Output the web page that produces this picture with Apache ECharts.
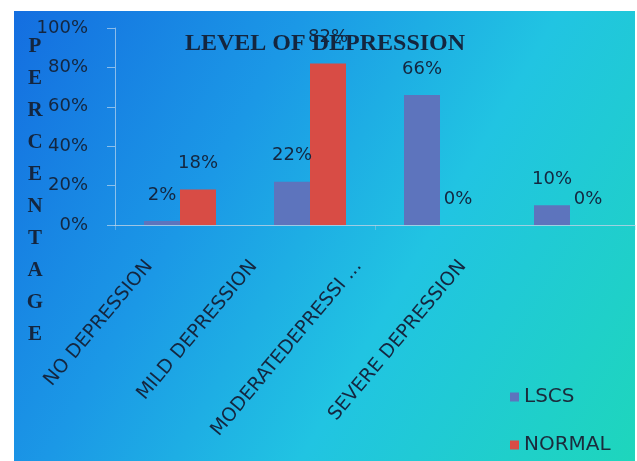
<!DOCTYPE html>
<html>
<head>
<meta charset="utf-8">
<script src="https://cdn.jsdelivr.net/npm/echarts@6/dist/echarts.min.js"></script>
<style>
  html, body { margin: 0; padding: 0; background: #fff; }
  #bg { position: absolute; left: 14px; top: 11px; width: 621px; height: 450px;
        background: linear-gradient(120deg, #146ee0 0%, #1b98e6 33%, #21c4e2 62%, #1ed6bc 100%); }
  #chart { position: absolute; left: 0; top: 0; width: 637px; height: 461px; }
</style>
</head>
<body>
<div id="bg"></div>
<div id="chart"></div>
<script>
var categories = ['NO DEPRESSION', 'MILD DEPRESSION', 'MODERATEDEPRESSI ...', 'SEVERE DEPRESSION'];
var lscs = [2, 22, 66, 10];
var normal = [18, 82, 0, 0];
var yMax = 100;
var yStep = 20;

var navy = '#14263f';
var chart = echarts.init(document.getElementById('chart'));

var barLabel = {
  show: true,
  position: 'top',
  distance: 17,
  formatter: '{c}%',
  color: navy,
  fontFamily: 'DejaVu Sans',
  fontSize: 18
};

chart.setOption({
  backgroundColor: 'transparent',
  animation: false,
  title: {
    text: 'LEVEL OF DEPRESSION',
    left: 185,
    top: 32,
    padding: 0,
    textStyle: { fontFamily: 'Liberation Serif', fontWeight: 'bold', fontSize: 24, color: navy }
  },
  legend: {
    orient: 'vertical',
    left: 505,
    top: 381,
    itemGap: 26,
    itemWidth: 9,
    itemHeight: 9,
    icon: 'rect',
    textStyle: { fontFamily: 'DejaVu Sans', fontSize: 20, color: '#1b2b3c', lineHeight: 22 }
  },
  graphic: [{
    type: 'text',
    x: 35,
    y: 31,
    style: {
      text: 'P\nE\nR\nC\nE\nN\nT\nA\nG\nE',
      font: 'bold 21px "Liberation Serif"',
      fill: navy,
      textAlign: 'center',
      lineHeight: 32
    }
  }],
  grid: [
    { left: 115, right: 2, top: 28, bottom: 236 },
    { left: 97, right: 122, top: 28, bottom: 236 }
  ],
  xAxis: [{
    type: 'category',
    gridIndex: 0,
    data: categories,
    axisLine: { lineStyle: { color: 'rgba(190,210,228,0.8)', width: 1 } },
    axisTick: { show: true, length: 5, lineStyle: { color: 'rgba(190,210,228,0.4)' } },
    axisLabel: { show: false }
  }, {
    type: 'category',
    gridIndex: 1,
    data: categories,
    axisLine: { show: false },
    axisTick: { show: false },
    axisLabel: {
      rotate: 50,
      margin: 38,
      interval: 0,
      color: navy,
      fontFamily: 'DejaVu Sans',
      fontSize: 19
    }
  }],
  yAxis: [{
    type: 'value',
    gridIndex: 0,
    min: 0,
    max: yMax,
    interval: yStep,
    splitLine: { show: false },
    axisLine: { show: true, lineStyle: { color: 'rgba(215,228,240,0.6)' } },
    axisTick: { show: true, length: 8, lineStyle: { color: 'rgba(215,228,240,0.6)' } },
    axisLabel: {
      formatter: '{value}%',
      margin: 27,
      color: navy,
      fontFamily: 'DejaVu Sans',
      fontSize: 18
    }
  }, {
    type: 'value',
    gridIndex: 1,
    show: false
  }],
  series: [{
    name: 'LSCS',
    type: 'bar',
    data: lscs,
    barWidth: 36,
    barGap: '0%',
    itemStyle: { color: '#5d74bd' },
    label: barLabel
  }, {
    name: 'NORMAL',
    type: 'bar',
    data: normal,
    barWidth: 36,
    barGap: '0%',
    itemStyle: { color: '#d84c45' },
    label: barLabel
  }]
});
</script>
</body>
</html>
